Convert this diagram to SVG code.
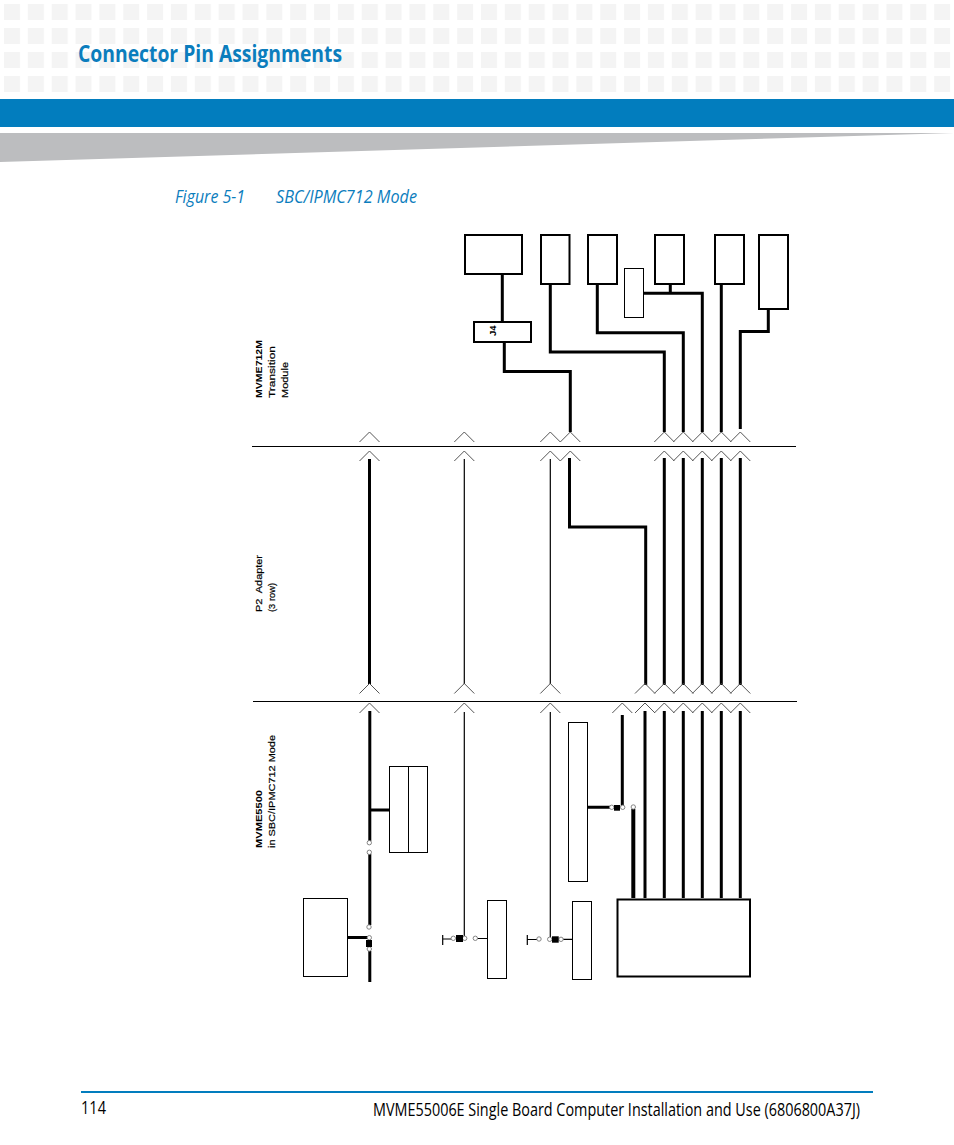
<svg xmlns="http://www.w3.org/2000/svg" width="954" height="1145" viewBox="0 0 954 1145">
<style>
.box2{fill:#fff;stroke:#000;stroke-width:2}
.box1{fill:#fff;stroke:#000;stroke-width:1}
.w3{fill:none;stroke:#000;stroke-width:3}
.w1{fill:none;stroke:#000;stroke-width:1.2}
.w4{fill:none;stroke:#000;stroke-width:4}
.rule{stroke:#000;stroke-width:1;fill:none}
.chev{fill:none;stroke:#555;stroke-width:1}
.pin{fill:#fff;stroke:#777;stroke-width:.9}
.lbl{font-family:"Liberation Sans",Arial,sans-serif;font-size:9.500px;fill:#000;stroke:#000;stroke-width:.2}
.b{font-weight:700;stroke:none}
.head{font-family:"Open Sans","Noto Sans",sans-serif}
.foot{font-family:"Open Sans","Noto Sans",sans-serif;font-size:18px;fill:#000}
</style>
<defs>
<path id="c" class="chev" d="M-10 10L0 0L10 10"/>
<circle id="p" class="pin" r="2.2"/>
<pattern id="dots" x="4" y="4" width="23.85" height="24" patternUnits="userSpaceOnUse"><rect width="16" height="16" fill="#f4f4f4"/></pattern>
</defs>
<rect width="954" height="1145" fill="#fff"/>
<g id="header">
<rect x="0" y="0" width="954" height="93" fill="url(#dots)"/>
<rect x="0" y="99" width="954" height="28" fill="#027dbe"/>
<polygon points="0,133 954,133 0,162" fill="#bcbdbf"/>
<text class="head" x="78" y="61.500" font-size="23" font-weight="700" fill="#0b7dbd" textLength="264" lengthAdjust="spacingAndGlyphs">Connector Pin Assignments</text>
<text class="head" x="175" y="202.500" font-size="19" font-style="italic" fill="#0b7dbd" textLength="70" lengthAdjust="spacingAndGlyphs">Figure 5-1</text>
<text class="head" x="276" y="202.500" font-size="19" font-style="italic" fill="#0b7dbd" textLength="141" lengthAdjust="spacingAndGlyphs">SBC/IPMC712 Mode</text>
</g>
<g id="rules">
<path class="rule" d="M252 446.500H796M253 701.500H797"/>
</g>
<g id="labels">
<text class="lbl b" transform="translate(262,398) rotate(-90)" textLength="58" lengthAdjust="spacingAndGlyphs">MVME712M</text>
<text class="lbl" transform="translate(275,398) rotate(-90)" textLength="52" lengthAdjust="spacingAndGlyphs">Transition</text>
<text class="lbl" transform="translate(288,398) rotate(-90)" textLength="36" lengthAdjust="spacingAndGlyphs">Module</text>
<text class="lbl" transform="translate(262,612) rotate(-90)" textLength="57" lengthAdjust="spacingAndGlyphs" xml:space="preserve">P2  Adapter</text>
<text class="lbl" transform="translate(275,612) rotate(-90)" textLength="29" lengthAdjust="spacingAndGlyphs">(3 row)</text>
<text class="lbl b" transform="translate(262,848) rotate(-90)" textLength="58" lengthAdjust="spacingAndGlyphs">MVME5500</text>
<text class="lbl" transform="translate(275,848) rotate(-90)" textLength="113" lengthAdjust="spacingAndGlyphs">in SBC/IPMC712 Mode</text>
</g>
<g id="connectors">
<path class="w3" d="M502.300 271V322M504.300 342V371.500H570.300V432"/>
<path class="w3" d="M550.300 284V352H664.300V432"/>
<path class="w3" d="M597.300 284V332.700H683.300V432"/>
<path class="w3" d="M670.300 284V293.300M644 293.300H702.300V432"/>
<path class="w3" d="M721.300 284V432"/>
<path class="w3" d="M768.300 309V331.500H740.300V429"/>
<path class="w3" d="M369.500 459V684"/>
<path class="w1" d="M464.300 459V684M550.300 459V684"/>
<path class="w3" d="M569.500 458V527H645.700V685"/>
<path class="w3" d="M664.300 458V685M683.300 458V685M702.300 458V685M721.300 458V685M740.300 458V685"/>
<path class="w3" d="M645 711V898M664.300 711V898M683.300 711V898M702.300 711V898M721.300 711V898M740.300 711V898"/>
<path class="w3" d="M622.300 715V807M587.300 807.300H610"/>
<path class="w4" d="M633.300 809V898"/>
<path class="w3" d="M369.800 711V841M369.800 854V925M369.800 951V982M348 937.500H368M371 810H389"/>
<path class="w1" d="M464.300 712V936M550.300 712V937M477.300 938.500H487.300M563 939.300H572.300M442.700 935V945M442.700 939H451.500M527.300 935V945M527.300 939.500H537"/>
</g>
<g id="chevrons">
<use href="#c" x="369.500" y="432"/><use href="#c" x="464.300" y="432"/><use href="#c" x="550.300" y="432"/><use href="#c" x="570.300" y="432"/><use href="#c" x="664.300" y="432"/><use href="#c" x="683.300" y="432"/><use href="#c" x="702.300" y="432"/><use href="#c" x="721.300" y="432"/><use href="#c" x="740.300" y="432"/>
<use href="#c" x="369.500" y="451"/><use href="#c" x="464.300" y="451"/><use href="#c" x="550.300" y="451"/><use href="#c" x="570.300" y="451"/><use href="#c" x="664.300" y="451"/><use href="#c" x="683.300" y="451"/><use href="#c" x="702.300" y="451"/><use href="#c" x="721.300" y="451"/><use href="#c" x="740.300" y="451"/>
<use href="#c" x="369.500" y="683.500"/><use href="#c" x="464.300" y="683.500"/><use href="#c" x="550.300" y="683.500"/><use href="#c" x="645" y="683.500"/><use href="#c" x="664.300" y="683.500"/><use href="#c" x="683.300" y="683.500"/><use href="#c" x="702.300" y="683.500"/><use href="#c" x="721.300" y="683.500"/><use href="#c" x="740.300" y="683.500"/>
<use href="#c" x="369.500" y="703"/><use href="#c" x="464.300" y="703"/><use href="#c" x="550.300" y="703"/><use href="#c" x="622.300" y="703"/><use href="#c" x="645" y="703"/><use href="#c" x="664.300" y="703"/><use href="#c" x="683.300" y="703"/><use href="#c" x="702.300" y="703"/><use href="#c" x="721.300" y="703"/><use href="#c" x="740.300" y="703"/>
</g>
<g id="node-top-1"><rect class="box2" x="465" y="235" width="57" height="39"/></g>
<g id="node-top-2"><rect class="box2" x="541" y="235" width="28.500" height="49"/></g>
<g id="node-top-3"><rect class="box2" x="588" y="235" width="29" height="49"/></g>
<g id="node-top-4"><rect class="box2" x="655" y="235" width="29" height="49"/></g>
<g id="node-top-5"><rect class="box2" x="715" y="235" width="29" height="49"/></g>
<g id="node-top-6"><rect class="box2" x="759" y="235" width="29" height="74"/></g>
<g id="node-small"><rect class="box1" x="624.500" y="268.500" width="19" height="49"/></g>
<g id="node-j4"><rect class="box2" x="474" y="322" width="57" height="20"/>
<text class="lbl b" transform="translate(496,336) rotate(-90)">J4</text></g>
<g id="node-double"><rect class="box1" x="389.500" y="766.500" width="38" height="86"/><path class="rule" d="M408.500 766.500V852.500"/></g>
<g id="node-left"><rect class="box1" x="303.500" y="898.500" width="44" height="78"/></g>
<g id="node-mid"><rect class="box1" x="487.500" y="900.500" width="19" height="78"/></g>
<g id="node-mid2"><rect class="box1" x="572.500" y="901.500" width="19" height="78"/></g>
<g id="node-tall"><rect class="box1" x="568.500" y="722.500" width="19" height="159"/></g>
<g id="node-big"><rect class="box2" x="617.500" y="899.500" width="132.500" height="77"/></g>
<g id="switches">
<use href="#p" x="369.300" y="842.700"/><use href="#p" x="369.300" y="852.300"/><use href="#p" x="369" y="927"/><use href="#p" x="369.300" y="937.700"/><use href="#p" x="369.300" y="949"/>
<rect x="366" y="940" width="6" height="7"/>
<use href="#p" x="453.300" y="938.300"/><use href="#p" x="464.700" y="938.300"/><use href="#p" x="475.300" y="938.300"/>
<rect x="456" y="935" width="7" height="7"/>
<use href="#p" x="539" y="939"/><use href="#p" x="549.700" y="939.300"/><use href="#p" x="561" y="939.300"/>
<rect x="552" y="936.300" width="6.700" height="6.400"/>
<use href="#p" x="611.700" y="807.300"/><use href="#p" x="622.700" y="807.300"/><use href="#p" x="633.300" y="807"/>
<rect x="614" y="805" width="6" height="5.700"/>
</g>
<g id="footer">
<rect x="81" y="1091" width="792" height="2" fill="#027dbe"/>
<text class="foot" x="81" y="1114" textLength="25" lengthAdjust="spacingAndGlyphs">114</text>
<text class="foot" transform="translate(373,1116) scale(.8,1)" textLength="608.750" lengthAdjust="spacingAndGlyphs">MVME55006E Single Board Computer Installation and Use (6806800A37J)</text>
</g>
</svg>
